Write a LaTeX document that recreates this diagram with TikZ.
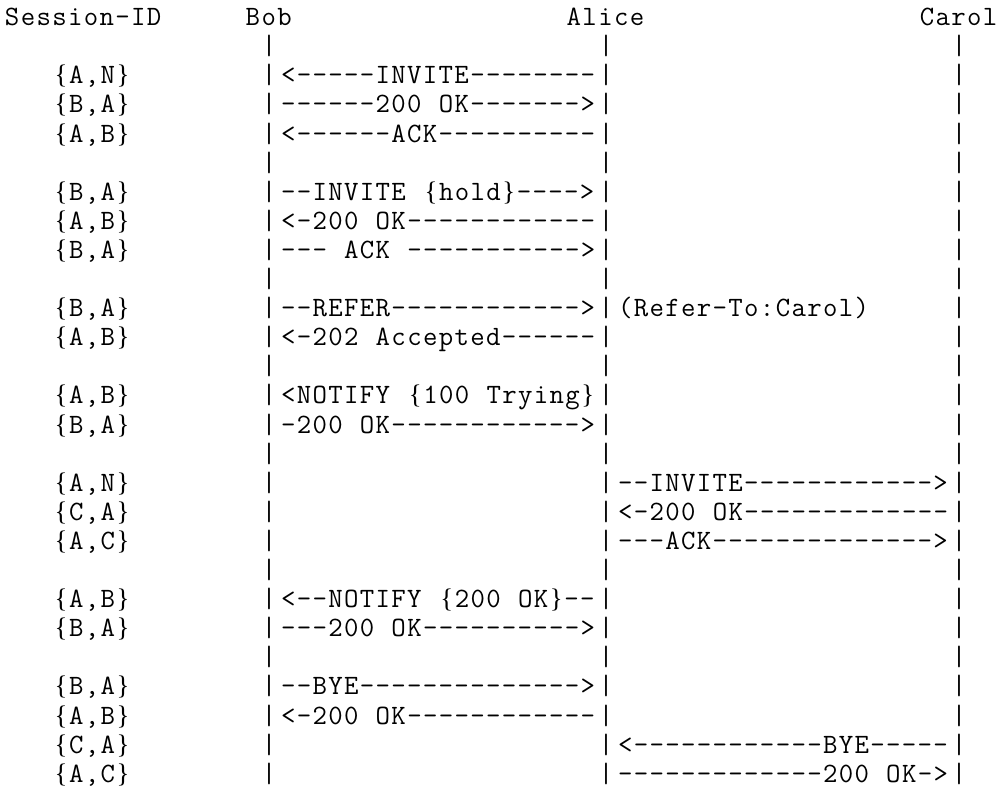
\documentclass[tikz,border=0pt]{standalone}
\usepackage{fontspec}
\setmonofont{Latin Modern Mono}[LetterSpace=4.82, WordSpace={1.0918,0,0}]
\newfontfamily\bracefont{Liberation Serif}
\usepackage{tikz}

\newcommand{\asciifont}{\ttfamily\fontsize{14}{16}\selectfont}
\newcommand{\lb}{\makebox[8.025pt]{\bracefont\fontsize{13.4}{16}\selectfont\{}}
\newcommand{\rb}{\makebox[8.025pt]{\bracefont\fontsize{13.4}{16}\selectfont\}}}

\begin{document}
\begin{tikzpicture}[x=8.025pt, y=-14.55pt]
	\tikzstyle{ascii} = [anchor=base west, inner sep=0pt, outer sep=0pt, font=\asciifont]
	\tikzstyle{msg} = [ascii, xshift=1.6pt]
	\useasboundingbox (-0.3115,-0.881) rectangle (61.81,26.335);
	
	\node[ascii] at (0,0) (sid) {Session-ID};
	\node[ascii] at (15,0) (bob) {Bob};
	\node[ascii] at (35,0) (alice) {Alice};
	\node[ascii] at (57,0) (carol) {Carol};
	
	\foreach \r in {1,...,26} {
		\node[ascii] at (16,\r) (bobline\r) {|};
		\node[ascii] at (37,\r) (aliceline\r) {|};
		\node[ascii] at (59,\r) (carolline\r) {|};
	}
	
	\node[ascii] at (3,2) (sid2) {\lb A,N\rb};
	\node[ascii] at (3,3) (sid3) {\lb B,A\rb};
	\node[ascii] at (3,4) (sid4) {\lb A,B\rb};
	\node[ascii] at (3,6) (sid6) {\lb B,A\rb};
	\node[ascii] at (3,7) (sid7) {\lb A,B\rb};
	\node[ascii] at (3,8) (sid8) {\lb B,A\rb};
	\node[ascii] at (3,10) (sid10) {\lb B,A\rb};
	\node[ascii] at (3,11) (sid11) {\lb A,B\rb};
	\node[ascii] at (3,13) (sid13) {\lb A,B\rb};
	\node[ascii] at (3,14) (sid14) {\lb B,A\rb};
	\node[ascii] at (3,16) (sid16) {\lb A,N\rb};
	\node[ascii] at (3,17) (sid17) {\lb C,A\rb};
	\node[ascii] at (3,18) (sid18) {\lb A,C\rb};
	\node[ascii] at (3,20) (sid20) {\lb A,B\rb};
	\node[ascii] at (3,21) (sid21) {\lb B,A\rb};
	\node[ascii] at (3,23) (sid23) {\lb B,A\rb};
	\node[ascii] at (3,24) (sid24) {\lb A,B\rb};
	\node[ascii] at (3,25) (sid25) {\lb C,A\rb};
	\node[ascii] at (3,26) (sid26) {\lb A,C\rb};
	
	% Bob <-> Alice
	\node[msg] at (17,2) (msg2) {<-----INVITE--------};
	\node[msg] at (17,3) (msg3) {------200 OK------->};
	\node[msg] at (17,4) (msg4) {<------ACK----------};
	\node[msg] at (17,6) (msg6) {--INVITE \lb hold\rb---->};
	\node[msg] at (17,7) (msg7) {<-200 OK------------};
	\node[msg] at (17,8) (msg8) {--- ACK ----------->};
	\node[msg] at (17,10) (msg10) {--REFER------------>};
	\node[msg] at (17,11) (msg11) {<-202 Accepted------};
	\node[msg] at (17,13) (msg13) {<NOTIFY \lb 100 Trying\rb};
	\node[msg] at (17,14) (msg14) {-200 OK------------>};
	\node[msg] at (17,20) (msg20) {<--NOTIFY \lb 200 OK\rb--};
	\node[msg] at (17,21) (msg21) {---200 OK---------->};
	\node[msg] at (17,23) (msg23) {--BYE-------------->};
	\node[msg] at (17,24) (msg24) {<-200 OK------------};
	
	% Alice <-> Carol
	\node[msg] at (38,10) (note10) {(Refer-To:Carol)};
	\node[msg] at (38,16) (msg16) {--INVITE------------>};
	\node[msg] at (38,17) (msg17) {<-200 OK-------------};
	\node[msg] at (38,18) (msg18) {---ACK-------------->};
	\node[msg] at (38,25) (msg25) {<------------BYE-----};
	\node[msg] at (38,26) (msg26) {-------------200 OK->};
\end{tikzpicture}
\end{document}
